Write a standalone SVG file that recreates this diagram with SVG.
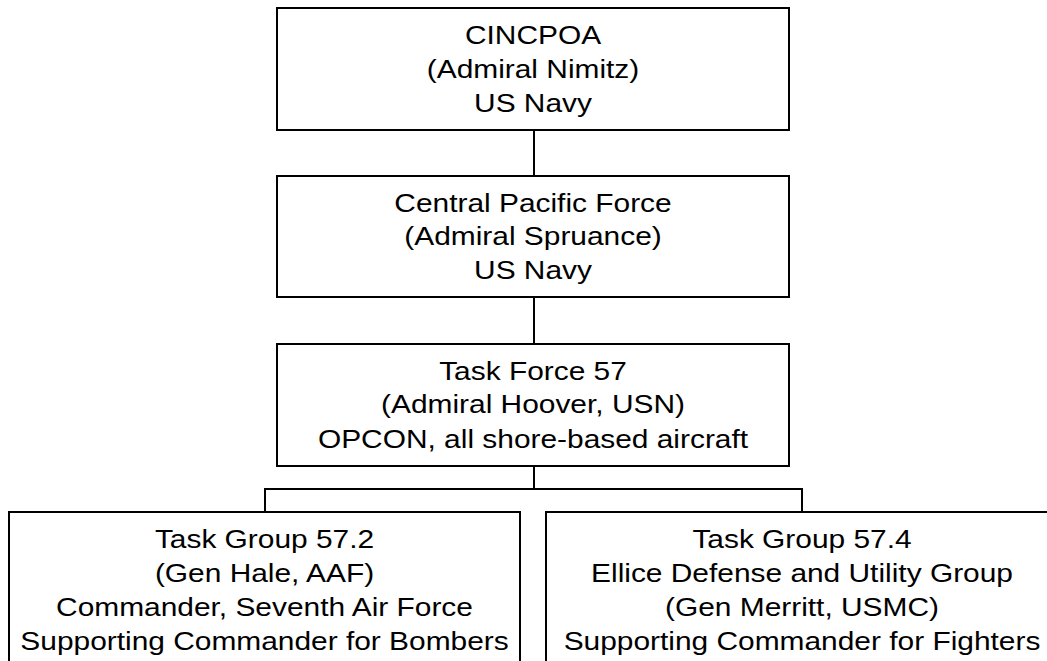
<svg xmlns="http://www.w3.org/2000/svg" width="1047" height="661" viewBox="0 0 1047 661">
<style>
.box{fill:#fff;stroke:#000;stroke-width:2}
.wire{fill:none;stroke:#000;stroke-width:2}
.lbl{font-family:"Liberation Sans",Arial,sans-serif;font-size:26px;fill:#000;text-anchor:middle}
</style>
<rect width="1047" height="661" fill="#fff"/>
<g id="connectors">
<line class="wire" x1="534" y1="130" x2="534" y2="176"/>
<line class="wire" x1="534" y1="297" x2="534" y2="344"/>
<polyline class="wire" points="534,466 534,489"/>
<polyline class="wire" points="265,512 265,489 802,489 802,512"/>
</g>
<g id="cincpoa">
<rect class="box" x="277" y="8" width="512" height="122"/>
<text class="lbl" transform="translate(533 0) scale(1.15 1)"><tspan x="0" y="44.3">CINCPOA</tspan><tspan x="0" y="78">(Admiral Nimitz)</tspan><tspan x="0" y="111.7">US Navy</tspan></text>
</g>
<g id="central-pacific-force">
<rect class="box" x="277" y="176" width="512" height="121"/>
<text class="lbl" transform="translate(533 0) scale(1.15 1)"><tspan x="0" y="211.7">Central Pacific Force</tspan><tspan x="0" y="245.3">(Admiral Spruance)</tspan><tspan x="0" y="279.5">US Navy</tspan></text>
</g>
<g id="task-force-57">
<rect class="box" x="277" y="344" width="512" height="122"/>
<text class="lbl" transform="translate(533 0) scale(1.15 1)"><tspan x="0" y="380">Task Force 57</tspan><tspan x="0" y="413.5">(Admiral Hoover, USN)</tspan><tspan x="0" y="448">OPCON, all shore-based aircraft</tspan></text>
</g>
<g id="task-group-57-2">
<rect class="box" x="9" y="512" width="511" height="200"/>
<text class="lbl" transform="translate(264.5 0) scale(1.15 1)"><tspan x="0" y="548.5">Task Group 57.2</tspan><tspan x="0" y="582">(Gen Hale, AAF)</tspan><tspan x="0" y="616">Commander, Seventh Air Force</tspan><tspan x="0" y="650">Supporting Commander for Bombers</tspan></text>
</g>
<g id="task-group-57-4">
<rect class="box" x="546" y="512" width="512" height="200"/>
<text class="lbl" transform="translate(802 0) scale(1.15 1)"><tspan x="0" y="548.5">Task Group 57.4</tspan><tspan x="0" y="582">Ellice Defense and Utility Group</tspan><tspan x="0" y="616">(Gen Merritt, USMC)</tspan><tspan x="0" y="650">Supporting Commander for Fighters</tspan></text>
</g>
</svg>
